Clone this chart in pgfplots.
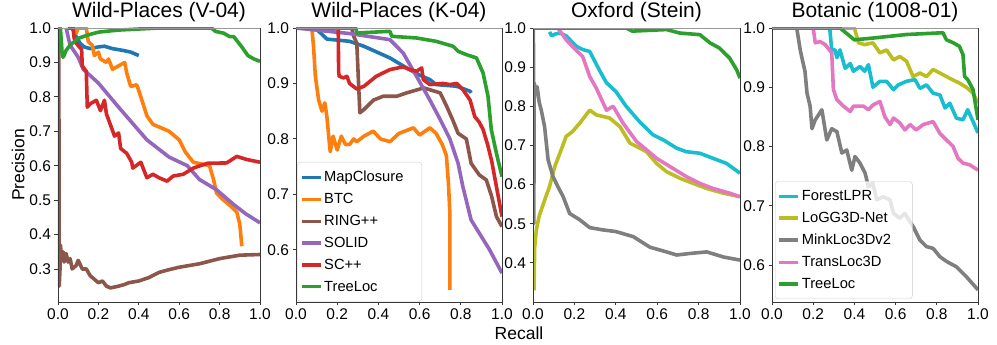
\documentclass[border=0pt]{standalone}
\usepackage{fontspec}
\setmainfont{Liberation Sans}
\usepackage{pgfplots}
\pgfplotsset{compat=1.18}

\definecolor{cblue}{HTML}{1F77B4}
\definecolor{corange}{HTML}{FF7F0E}
\definecolor{cgreen}{HTML}{2CA02C}
\definecolor{cred}{HTML}{D62728}
\definecolor{cpurple}{HTML}{9467BD}
\definecolor{cbrown}{HTML}{8C564B}
\definecolor{cpink}{HTML}{E377C2}
\definecolor{cgray}{HTML}{7F7F7F}
\definecolor{colive}{HTML}{BCBD22}
\definecolor{ccyan}{HTML}{17BECF}

\newcommand{\legfont}{\fontsize{14.7}{16}\selectfont}

\pgfplotsset{
  pr/.style={
    scale only axis, height=274pt,
    xmin=0, xmax=1, ymax=1,
    xtick={0,0.2,...,1.0},
    axis on top,
    axis line style={draw=black!78, line width=0.9pt},
    tick style={black!78, line width=0.9pt},
    tick align=outside, major tick length=3.5pt,
    xtick pos=bottom, ytick pos=left,
    ticklabel style={font=\fontsize{15.5}{16}\selectfont,
      /pgf/number format/fixed, /pgf/number format/fixed zerofill,
      /pgf/number format/precision=1, /pgf/number format/assume math mode=true},
    title style={font=\fontsize{21}{24}\selectfont, yshift=-3pt},
    legend style={font=\legfont, draw=black!20, rounded corners=3pt,
      fill=white, fill opacity=0.8, text opacity=1, anchor=south west,
      row sep=6.1pt, inner xsep=2.4pt, inner ysep=7pt, cells={anchor=west}},
    legend image code/.code={\draw[##1, line width=3.3pt] (0pt,0pt) -- (19pt,0pt);},
    every axis plot/.append style={line width=3.6pt, line join=round},
    after end axis/.append code={
      \draw[draw=black!40, line width=0.9pt] (rel axis cs:0,1) -- (rel axis cs:1,1);},
  },
}

\begin{document}
\begin{tikzpicture}
\useasboundingbox (0,0) rectangle (997pt,345pt);

% ---------------- Wild-Places (V-04)
\begin{axis}[pr, at={(58pt,43pt)}, anchor=south west, width=202pt,
  ymin=0.204, ytick={0.3,0.4,...,1.0},
  title={Wild-Places (V-04)},
  ylabel={Precision}, ylabel style={font=\fontsize{17.5}{18}\selectfont, yshift=-2pt}]
\addplot[cblue] coordinates {(0.07,1.0)(0.09,0.975)(0.11,0.955)(0.13,0.945)(0.16,0.94)(0.2,0.945)(0.23,0.947)(0.27,0.94)(0.32,0.935)(0.36,0.93)(0.38,0.925)(0.40,0.92)};
\addplot[corange] coordinates {(0.05,1.0)(0.08,1.0)(0.09,0.985)(0.1,1.0)(0.14,1.0)(0.15,0.96)(0.17,0.95)(0.18,0.92)(0.2,0.93)(0.21,0.91)(0.24,0.9)(0.25,0.91)(0.27,0.88)(0.3,0.89)(0.33,0.9)(0.34,0.87)(0.36,0.83)(0.39,0.835)(0.41,0.8)(0.44,0.745)(0.47,0.72)(0.49,0.715)(0.55,0.70)(0.6,0.675)(0.63,0.64)(0.67,0.61)(0.75,0.60)(0.77,0.56)(0.785,0.52)(0.82,0.50)(0.86,0.48)(0.885,0.465)(0.9,0.43)(0.91,0.366)};
\addplot[cbrown] coordinates {(0.004,1.0)(0.006,0.25)(0.01,0.3)(0.012,0.37)(0.018,0.33)(0.025,0.35)(0.03,0.32)(0.04,0.345)(0.05,0.32)(0.06,0.33)(0.07,0.30)(0.09,0.31)(0.1,0.325)(0.12,0.3)(0.14,0.3)(0.16,0.28)(0.18,0.27)(0.2,0.26)(0.22,0.265)(0.24,0.25)(0.26,0.245)(0.3,0.25)(0.33,0.255)(0.35,0.26)(0.4,0.265)(0.45,0.275)(0.5,0.29)(0.55,0.298)(0.6,0.305)(0.7,0.315)(0.8,0.33)(0.9,0.34)(1.0,0.342)};
\addplot[cpurple] coordinates {(0.04,1.0)(0.06,0.95)(0.1,0.915)(0.125,0.88)(0.2,0.84)(0.3,0.77)(0.44,0.675)(0.55,0.625)(0.64,0.60)(0.7,0.56)(0.785,0.53)(0.87,0.487)(0.93,0.46)(1.0,0.434)};
\addplot[cred] coordinates {(0.05,1.0)(0.075,1.0)(0.08,0.97)(0.09,0.956)(0.117,0.937)(0.12,0.89)(0.14,0.874)(0.145,0.77)(0.16,0.78)(0.19,0.79)(0.21,0.76)(0.23,0.79)(0.24,0.75)(0.28,0.686)(0.3,0.695)(0.31,0.65)(0.34,0.636)(0.365,0.61)(0.37,0.593)(0.41,0.61)(0.44,0.565)(0.47,0.575)(0.50,0.565)(0.54,0.555)(0.57,0.57)(0.62,0.575)(0.67,0.593)(0.74,0.607)(0.835,0.608)(0.885,0.627)(0.934,0.618)(1.0,0.61)};
\addplot[cgreen] coordinates {(0.0,1.0)(0.012,1.0)(0.02,0.93)(0.025,0.915)(0.03,0.92)(0.04,0.935)(0.06,0.95)(0.08,0.96)(0.1,0.97)(0.15,0.98)(0.2,0.988)(0.3,0.994)(0.4,0.997)(0.5,1.0)(0.76,1.0)(0.78,0.99)(0.82,0.985)(0.85,0.975)(0.87,0.975)(0.89,0.96)(0.91,0.945)(0.94,0.92)(0.97,0.91)(1.0,0.903)};
\end{axis}

% ---------------- Wild-Places (K-04)
\begin{axis}[pr, at={(296pt,43pt)}, anchor=south west, width=206pt,
  ymin=0.506, ytick={0.6,0.7,...,1.0},
  title={Wild-Places (K-04)},
  legend style={at={(0.0063,0.001)}}]
\addplot[cblue] coordinates {(0,1.0)(0.094,1.0)(0.15,0.98)(0.26,0.976)(0.33,0.967)(0.456,0.946)(0.537,0.928)(0.6,0.915)(0.65,0.907)(0.68,0.898)(0.78,0.895)(0.845,0.886)(0.85,0.883)};
\addplot[corange] coordinates {(0,1.0)(0.077,1.0)(0.085,0.967)(0.094,0.913)(0.11,0.87)(0.126,0.85)(0.14,0.865)(0.15,0.84)(0.166,0.777)(0.18,0.805)(0.2,0.78)(0.22,0.805)(0.24,0.79)(0.26,0.79)(0.28,0.8)(0.295,0.795)(0.33,0.805)(0.375,0.814)(0.41,0.8)(0.456,0.795)(0.5,0.81)(0.57,0.82)(0.6,0.807)(0.65,0.82)(0.68,0.81)(0.71,0.79)(0.73,0.77)(0.74,0.72)(0.747,0.666)(0.747,0.528)};
\addplot[cbrown] coordinates {(0,1.0)(0.27,1.0)(0.28,0.985)(0.295,0.973)(0.31,0.847)(0.33,0.853)(0.376,0.87)(0.424,0.877)(0.49,0.877)(0.537,0.883)(0.62,0.892)(0.7,0.883)(0.73,0.86)(0.76,0.835)(0.787,0.81)(0.827,0.8)(0.85,0.756)(0.89,0.735)(0.924,0.726)(0.95,0.696)(0.973,0.66)(1.0,0.642)};
\addplot[cpurple] coordinates {(0,1.0)(0.26,0.99)(0.456,0.979)(0.52,0.955)(0.585,0.913)(0.65,0.87)(0.7,0.835)(0.747,0.8)(0.787,0.756)(0.81,0.714)(0.85,0.654)(0.89,0.63)(0.94,0.6)(1.0,0.558)};
\addplot[cred] coordinates {(0,1.0)(0.205,1.0)(0.207,0.92)(0.21,0.913)(0.23,0.91)(0.247,0.913)(0.26,0.9)(0.295,0.89)(0.33,0.895)(0.39,0.913)(0.456,0.925)(0.52,0.93)(0.553,0.925)(0.585,0.922)(0.61,0.928)(0.618,0.907)(0.65,0.898)(0.715,0.9)(0.747,0.898)(0.78,0.9)(0.81,0.889)(0.845,0.87)(0.868,0.84)(0.89,0.83)(0.908,0.817)(0.93,0.79)(0.95,0.76)(0.973,0.714)(1.0,0.66)};
\addplot[cgreen] coordinates {(0,1.0)(0.29,1.0)(0.295,0.991)(0.456,0.994)(0.465,0.985)(0.585,0.982)(0.68,0.976)(0.763,0.967)(0.787,0.958)(0.827,0.952)(0.876,0.946)(0.908,0.919)(0.932,0.877)(0.948,0.817)(0.973,0.774)(1.0,0.732)};
\legend{MapClosure\makebox[14pt]{}, BTC, RING++, SOLID, SC++, TreeLoc}
\end{axis}

% ---------------- Oxford (Stein)
\begin{axis}[pr, at={(533pt,43pt)}, anchor=south west, width=207pt,
  ymin=0.30, ytick={0.4,0.5,...,1.0},
  title={Oxford (Stein)}]
\addplot[ccyan] coordinates {(0.08,0.99)(0.09,0.98)(0.11,0.985)(0.13,0.987)(0.16,0.98)(0.21,0.953)(0.24,0.945)(0.274,0.94)(0.32,0.893)(0.355,0.86)(0.4,0.838)(0.45,0.8)(0.516,0.76)(0.58,0.727)(0.63,0.714)(0.694,0.693)(0.74,0.684)(0.806,0.68)(0.87,0.667)(0.935,0.654)(1.0,0.629)};
\addplot[colive] coordinates {(0.005,0.33)(0.008,0.44)(0.016,0.484)(0.03,0.52)(0.056,0.56)(0.08,0.595)(0.105,0.646)(0.13,0.68)(0.16,0.723)(0.19,0.735)(0.226,0.757)(0.274,0.79)(0.306,0.778)(0.37,0.77)(0.42,0.748)(0.468,0.706)(0.516,0.693)(0.548,0.684)(0.597,0.654)(0.645,0.633)(0.71,0.616)(0.774,0.603)(0.839,0.59)(0.92,0.578)(1.0,0.569)};
\addplot[cgray] coordinates {(0.002,1.0)(0.004,0.5)(0.006,0.86)(0.012,0.84)(0.02,0.85)(0.03,0.81)(0.04,0.79)(0.056,0.748)(0.073,0.663)(0.097,0.62)(0.12,0.595)(0.145,0.57)(0.177,0.526)(0.226,0.51)(0.274,0.49)(0.34,0.484)(0.4,0.48)(0.484,0.467)(0.565,0.44)(0.645,0.428)(0.694,0.42)(0.758,0.424)(0.839,0.428)(0.92,0.415)(1.0,0.407)};
\addplot[cpink] coordinates {(0.12,1.0)(0.16,0.97)(0.19,0.953)(0.24,0.927)(0.274,0.876)(0.306,0.846)(0.355,0.79)(0.387,0.8)(0.435,0.757)(0.5,0.71)(0.548,0.689)(0.597,0.667)(0.677,0.641)(0.742,0.62)(0.806,0.603)(0.87,0.59)(0.95,0.578)(1.0,0.569)};
\addplot[cgreen] coordinates {(0,1.0)(0.45,1.0)(0.48,0.992)(0.645,0.996)(0.71,0.987)(0.806,0.983)(0.855,0.962)(0.9,0.949)(0.95,0.923)(0.984,0.893)(1.0,0.872)};
\end{axis}

% ---------------- Botanic (1008-01)
\begin{axis}[pr, at={(772pt,43pt)}, anchor=south west, width=206pt,
  ymin=0.5375, ytick={0.6,0.7,...,1.0},
  title={Botanic (1008-01)},
  legend style={at={(0.0146,0.011)}}]
\addplot[ccyan] coordinates {(0,1.0)(0.28,1.0)(0.29,0.963)(0.306,0.963)(0.315,0.95)(0.33,0.963)(0.355,0.932)(0.38,0.94)(0.395,0.927)(0.427,0.935)(0.45,0.927)(0.468,0.938)(0.49,0.9)(0.524,0.91)(0.556,0.91)(0.59,0.896)(0.613,0.904)(0.653,0.91)(0.694,0.913)(0.718,0.898)(0.75,0.904)(0.782,0.89)(0.815,0.887)(0.84,0.865)(0.863,0.873)(0.895,0.848)(0.927,0.845)(0.95,0.862)(0.976,0.842)(1.0,0.823)};
\addplot[colive] coordinates {(0,1.0)(0.4,1.0)(0.42,0.975)(0.45,0.972)(0.49,0.975)(0.524,0.958)(0.556,0.963)(0.59,0.946)(0.62,0.952)(0.653,0.944)(0.685,0.918)(0.718,0.924)(0.75,0.918)(0.782,0.93)(0.815,0.924)(0.863,0.915)(0.91,0.907)(0.943,0.9)(0.976,0.89)(1.0,0.873)};
\addplot[cgray] coordinates {(0,1.0)(0.12,1.0)(0.137,0.963)(0.145,0.95)(0.16,0.927)(0.17,0.89)(0.185,0.868)(0.194,0.83)(0.21,0.845)(0.242,0.862)(0.266,0.811)(0.29,0.83)(0.315,0.825)(0.339,0.789)(0.363,0.794)(0.387,0.76)(0.403,0.783)(0.427,0.772)(0.452,0.755)(0.468,0.732)(0.49,0.738)(0.508,0.71)(0.54,0.715)(0.573,0.71)(0.59,0.687)(0.62,0.679)(0.645,0.687)(0.685,0.665)(0.718,0.642)(0.75,0.631)(0.782,0.628)(0.815,0.614)(0.847,0.606)(0.895,0.597)(0.944,0.58)(1.0,0.558)};
\addplot[cpink] coordinates {(0,1.0)(0.2,1.0)(0.21,0.975)(0.234,0.977)(0.258,0.972)(0.29,0.958)(0.298,0.896)(0.315,0.879)(0.347,0.868)(0.38,0.859)(0.395,0.868)(0.444,0.868)(0.468,0.862)(0.49,0.87)(0.524,0.876)(0.548,0.85)(0.573,0.837)(0.59,0.848)(0.62,0.84)(0.645,0.828)(0.67,0.837)(0.70,0.828)(0.734,0.837)(0.782,0.842)(0.815,0.822)(0.847,0.811)(0.879,0.8)(0.903,0.78)(0.927,0.772)(0.96,0.769)(1.0,0.76)};
\addplot[cgreen] coordinates {(0,1.0)(0.33,1.0)(0.4,0.98)(0.49,0.983)(0.653,0.989)(0.83,0.992)(0.847,0.98)(0.88,0.975)(0.91,0.969)(0.927,0.955)(0.935,0.918)(0.95,0.913)(0.976,0.896)(1.0,0.845)};
\legend{ForestLPR, LoGG3D-Net, MinkLoc3Dv2\makebox[17pt]{}, TransLoc3D, TreeLoc}
\end{axis}

\node[font=\fontsize{17.5}{18}\selectfont] at (519pt,12pt) {Recall};
\end{tikzpicture}
\end{document}
